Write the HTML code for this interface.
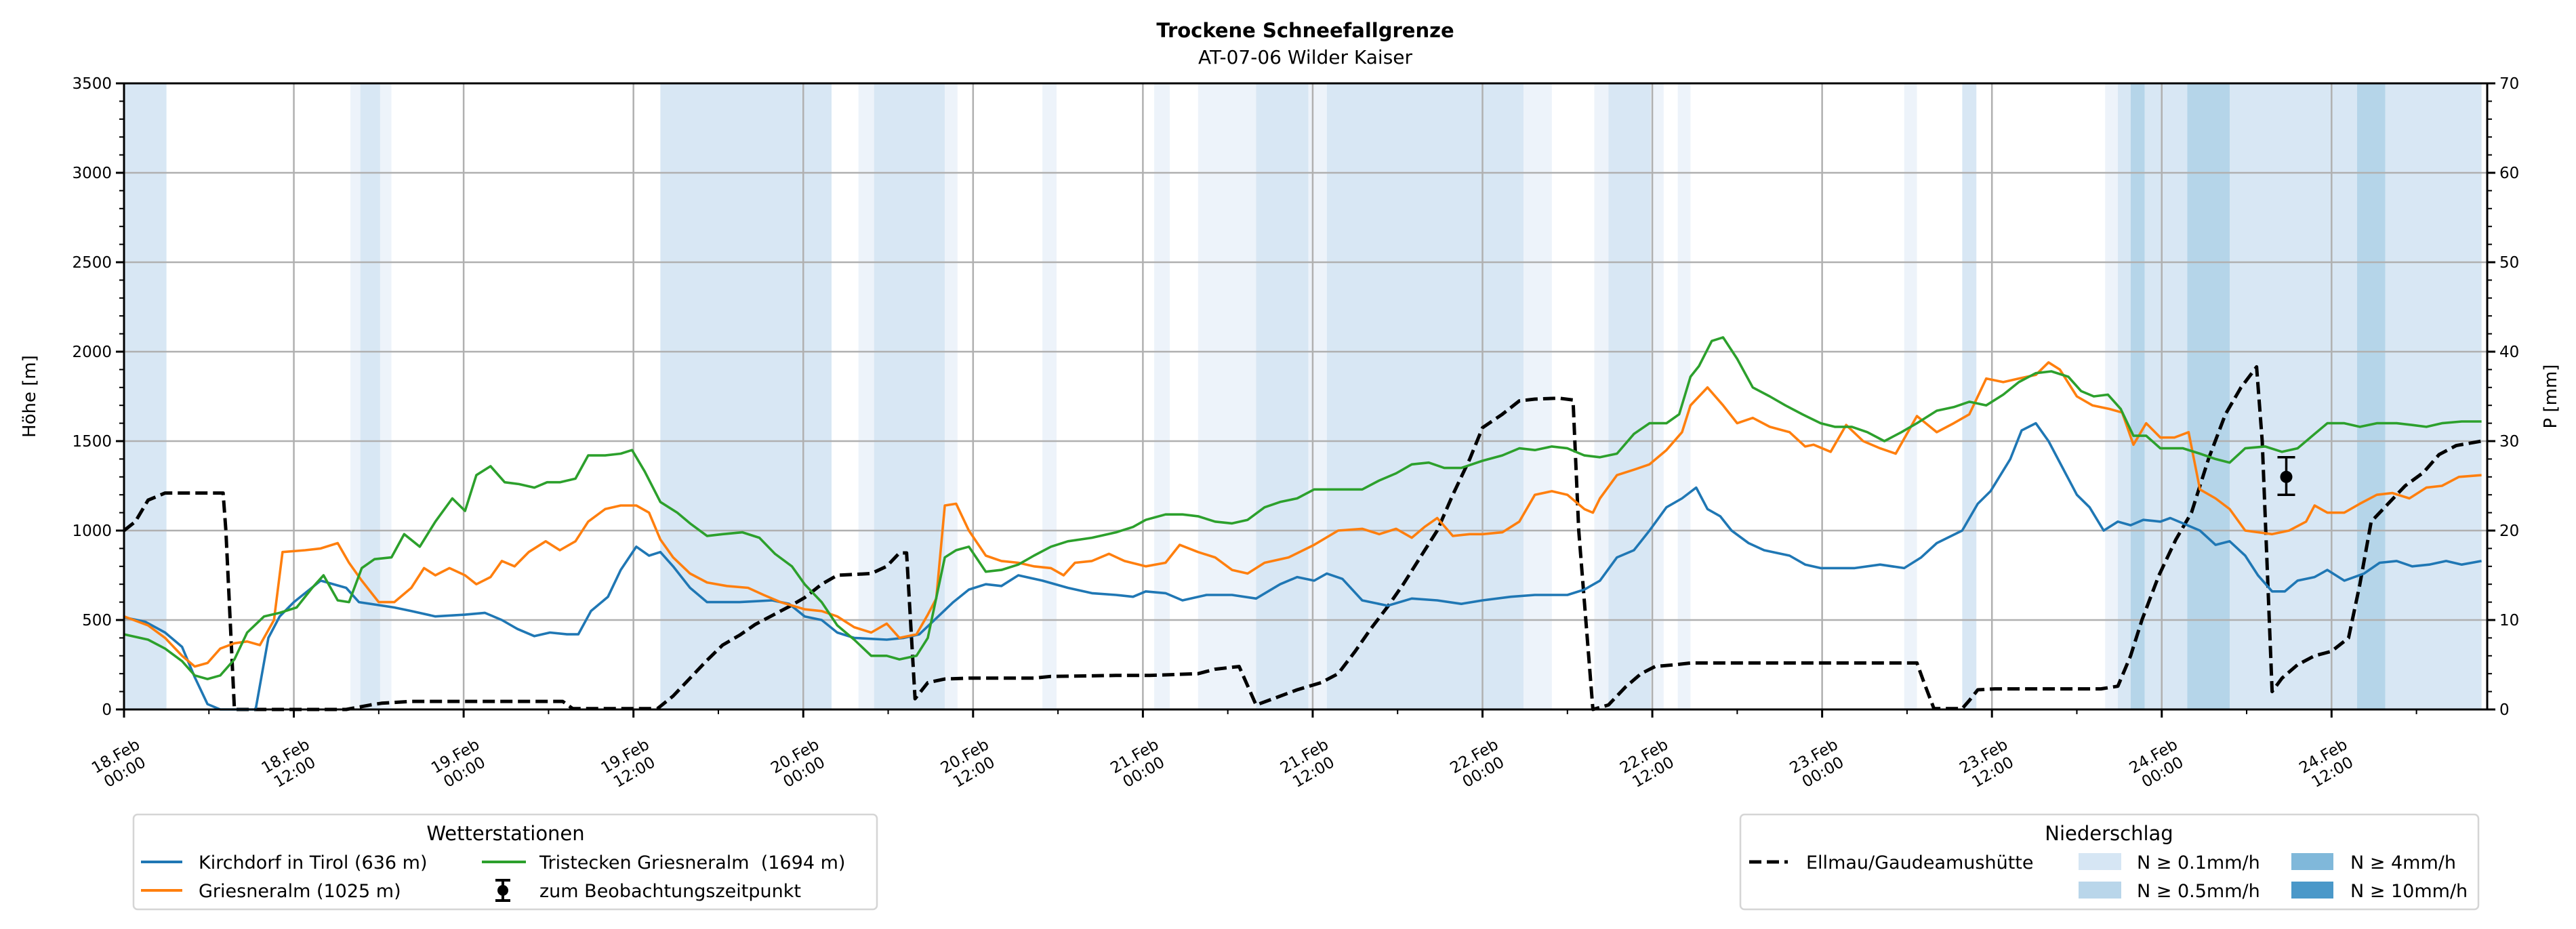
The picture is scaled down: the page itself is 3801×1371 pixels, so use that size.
<!DOCTYPE html>
<html><head><meta charset="utf-8"><style>
html,body{margin:0;padding:0;background:#fff;}
svg{display:block;font-family:"DejaVu Sans","Liberation Sans",sans-serif;}
</style></head><body>
<svg id="chart" width="3801" height="1371" viewBox="0 0 3801 1371" xmlns="http://www.w3.org/2000/svg">
<text x="1926" y="55" text-anchor="middle" font-size="29" font-weight="bold">Trockene Schneefallgrenze</text>
<text x="1926" y="94" text-anchor="middle" font-size="28">AT-07-06 Wilder Kaiser</text>
<g id="bands"></g>
<g id="grid"></g>
<g id="series"></g>
<g id="axes"></g>
<text transform="translate(52,585) rotate(-90)" text-anchor="middle" font-size="26">Höhe [m]</text>
<text transform="translate(3772,585) rotate(-90)" text-anchor="middle" font-size="26">P [mm]</text>

<g>
<rect x="197" y="1202" width="1097" height="140" rx="6" fill="#fff" stroke="#d5d5d5" stroke-width="2.5"/>
<text x="746" y="1240" text-anchor="middle" font-size="29">Wetterstationen</text>
<g><line x1="208" y1="1272" x2="269" y2="1272" stroke="#1f77b4" stroke-width="4"/><text x="293" y="1282" font-size="27">Kirchdorf in Tirol (636 m)</text></g>
<g><line x1="208" y1="1314" x2="269" y2="1314" stroke="#ff7f0e" stroke-width="4"/><text x="293" y="1324" font-size="27">Griesneralm (1025 m)</text></g>
<g><line x1="711" y1="1272" x2="776" y2="1272" stroke="#2ca02c" stroke-width="4"/><text x="796" y="1282" font-size="27" xml:space="preserve">Tristecken Griesneralm  (1694 m)</text></g>
<g><line x1="742" y1="1299" x2="742" y2="1329" stroke="#000" stroke-width="4"/><line x1="731" y1="1299" x2="753" y2="1299" stroke="#000" stroke-width="4"/><line x1="731" y1="1329" x2="753" y2="1329" stroke="#000" stroke-width="4"/><circle cx="742" cy="1314" r="8"/><text x="796" y="1324" font-size="27">zum Beobachtungszeitpunkt</text></g>
</g>

<g>
<rect x="2568" y="1202" width="1089" height="140" rx="6" fill="#fff" stroke="#d5d5d5" stroke-width="2.5"/>
<text x="3112" y="1240" text-anchor="middle" font-size="29">Niederschlag</text>
<g><line x1="2581" y1="1272" x2="2638" y2="1272" stroke="#000" stroke-width="5" stroke-dasharray="18,8"/><text x="2665" y="1282" font-size="27">Ellmau/Gaudeamushütte</text></g>
<g><rect x="3067" y="1259" width="63" height="25" fill="#d6e6f4"/><text x="3153" y="1282" font-size="27">N ≥ 0.1mm/h</text></g>
<g><rect x="3067" y="1301" width="63" height="25" fill="#b9d6ea"/><text x="3153" y="1324" font-size="27">N ≥ 0.5mm/h</text></g>
<g><rect x="3381" y="1259" width="62" height="25" fill="#80b8da"/><text x="3468" y="1282" font-size="27">N ≥ 4mm/h</text></g>
<g><rect x="3381" y="1301" width="62" height="25" fill="#4a98c9"/><text x="3468" y="1324" font-size="27">N ≥ 10mm/h</text></g>
</g>
</svg>
<script>
const blueT=[0,1.5,2.9,4.1,5,5.9,6.8,9.3,10.2,11,12,13.9,15.7,16.6,19.1,20.3,22,24.1,25.5,26.7,27.8,29,30.1,31.3,32.1,33,34.2,35.1,36.2,37.1,37.9,38.8,40,41.2,43.5,45.8,47,48.1,49.3,50.4,51.6,53.9,55.1,56.2,57.4,58.6,59.7,60.9,62,63.2,64.9,66.7,68.4,70.1,71.3,72.2,73.6,74.8,76.5,78.3,80,81.7,82.9,84.1,85,86.1,87.5,89.3,91,92.8,94.5,96,98,99.7,102,103.2,104.3,105.5,106.7,107.8,109,110.1,111.1,111.9,112.8,113.6,114.8,115.9,117.7,118.8,119.9,122.3,124.1,125.8,127,128.1,129.9,131,131.9,133.3,134.1,135.1,136,137,138,138.9,139.9,140.9,141.8,142.7,143.9,144.6,145.5,146.7,147.8,148.8,149.9,150.8,151.8,152.7,153.6,154.8,155.7,156.9,158.3,159.4,160.6,161.7,162.9,164.1,165.2,166.6];
const blueV=[515,490,430,350,180,30,0,0,400,520,600,720,680,600,570,550,520,530,540,500,450,410,430,420,420,550,630,780,910,860,880,800,680,600,600,610,590,520,500,430,400,390,400,420,510,600,670,700,690,750,720,680,650,640,630,660,650,610,640,640,620,700,740,720,760,730,610,580,620,610,590,610,630,640,640,670,720,850,890,1000,1130,1180,1240,1120,1080,1000,930,890,860,810,790,790,810,790,850,930,1000,1150,1220,1400,1560,1600,1500,1350,1200,1130,1000,1050,1030,1060,1050,1070,1040,1000,920,940,860,750,660,660,720,740,780,720,760,820,830,800,810,830,810,830];
const orangeT=[0,1.7,2.9,4.1,5,5.9,6.8,7.8,8.7,9.6,10.6,11.2,12.8,13.9,15.1,15.9,16.8,18,19.1,20.3,21.2,22,23,24.1,24.9,25.9,26.7,27.6,28.6,29.8,30.8,31.9,32.8,34,35.1,36.2,37.1,37.9,38.8,40,41.2,42.6,44.1,45.2,46.4,48.1,49.3,50.4,51.6,52.8,53.9,54.8,56,56.8,57.4,58,58.8,59.7,60.9,62,63.2,64.3,65.5,66.4,67.2,68.4,69.6,70.7,72.2,73.6,74.6,75.9,77.1,78.3,79.4,80.6,82.3,84.1,85.8,87.5,88.7,89.9,91,91.9,92.8,93.9,95.1,96,97.4,98.6,99.7,100.9,102,103.2,103.8,104.3,105.5,106.7,107.8,109,110.1,110.7,111.9,113,114,115.1,116.3,117.7,118.8,119.4,120.6,121.7,122.9,124.1,125.2,126.7,128.1,129.3,130.4,131.6,132.8,133.9,135.1,136,136.8,138,139.1,140.3,141.2,142,142.9,143.9,144.9,145.9,146.7,147.8,148.8,149.9,151.8,153,154.2,154.8,155.7,156.9,158,159.2,160.3,161.5,162.7,163.8,165,166.6];
const orangeV=[520,470,400,300,240,260,340,370,380,360,500,880,890,900,930,820,720,600,600,680,790,750,790,750,700,740,830,800,880,940,890,940,1050,1120,1140,1140,1100,950,850,760,710,690,680,640,600,560,550,520,460,430,480,400,420,530,620,1140,1150,1000,860,830,820,800,790,750,820,830,870,830,800,820,920,880,850,780,760,820,850,920,1000,1010,980,1010,960,1020,1070,970,980,980,990,1050,1200,1220,1200,1120,1100,1180,1310,1340,1370,1450,1550,1700,1800,1700,1600,1630,1580,1550,1470,1480,1440,1590,1500,1460,1430,1640,1550,1600,1650,1850,1830,1850,1870,1940,1900,1750,1700,1680,1660,1480,1600,1520,1520,1550,1230,1180,1120,1000,980,1000,1050,1140,1100,1100,1150,1200,1210,1180,1240,1250,1300,1310];
const greenT=[0,1.7,2.9,4.1,5,5.9,6.8,7.8,8.7,9.9,11,12.2,13.3,14.1,15.1,15.9,16.8,17.7,18.9,19.8,20.9,22,23.2,24.1,24.9,25.9,26.9,27.9,29,29.9,30.8,31.9,32.8,34,35.1,35.9,36.8,37.9,39.1,40,41.2,42.3,43.7,44.9,46,47.2,48.1,49.3,50.4,51.6,52.8,53.9,54.8,56,56.8,58,58.8,59.7,60.9,62,63.2,64.3,65.5,66.7,68.4,70.1,71.3,72.2,73.6,74.8,75.9,77.1,78.3,79.4,80.6,81.7,82.9,84.1,85.8,87.5,88.7,89.9,91,92.2,93.3,94.5,96,97.4,98.6,99.7,100.9,102,103.2,104.3,105.5,106.7,107.8,109,109.9,110.7,111.3,112.2,113,114,115.1,116.3,117.4,118.6,119.9,120.9,122.1,123.2,124.4,125.6,126.7,128.1,129.3,130.4,131.6,132.8,133.9,135.1,136.2,137.4,138.3,139.2,140.2,141.1,142,142.9,143.9,145.5,146.7,147.8,148.8,149.9,151.3,152.5,153.6,154.8,155.7,156.9,158,159.2,160.6,161.7,162.7,163.8,165.2,166.6];
const greenV=[420,390,340,270,190,170,190,280,430,520,540,570,680,750,610,600,790,840,850,980,910,1050,1180,1110,1310,1360,1270,1260,1240,1270,1270,1290,1420,1420,1430,1450,1330,1160,1100,1040,970,980,990,960,870,800,700,600,470,390,300,300,280,300,400,850,890,910,770,780,810,860,910,940,960,990,1020,1060,1090,1090,1080,1050,1040,1060,1130,1160,1180,1230,1230,1230,1280,1320,1370,1380,1350,1350,1390,1420,1460,1450,1470,1460,1420,1410,1430,1540,1600,1600,1650,1860,1920,2060,2080,1960,1800,1750,1700,1650,1600,1580,1580,1550,1500,1550,1600,1670,1690,1720,1700,1760,1830,1880,1890,1860,1780,1750,1760,1680,1530,1530,1460,1460,1430,1400,1380,1460,1470,1440,1460,1540,1600,1600,1580,1600,1600,1590,1580,1600,1610,1610];
const precipT=[0,0.8,1.7,2.9,7,7.2,7.8,15.7,17.4,18.2,20.3,31,31.7,37.7,38.8,40,41.2,42.3,43.5,44.6,45.8,47,48.1,49.3,50.4,52.8,53.9,54.8,55.3,55.9,56.8,58,59.7,64.3,65.5,70.1,72.5,75.9,77.1,78.8,80,81.2,82.9,84.6,85.8,87,88.1,89.3,90.4,91.6,92.8,93.9,95.1,96,97.4,98.6,99.7,101.4,102.4,102.8,103.8,104.9,106.1,107.2,108.2,109.6,110.7,126.7,127.2,127.9,129.9,130.4,131,132.2,139.7,140.9,141.8,142.6,143.8,145,146.1,147.3,148.5,149.6,150.7,151.1,151.8,152.5,153.6,154.8,156,157.2,158,158.8,160,161.2,162.5,163.6,164.8,166.6];
const precipV=[20,21,23.4,24.2,24.2,20,0,0,0.5,0.7,0.9,0.9,0.1,0.1,1.5,3.5,5.5,7.2,8.3,9.5,10.5,11.5,12.5,14,15,15.2,16,17.5,17.5,1.2,3,3.4,3.5,3.5,3.7,3.8,3.8,4,4.5,4.8,0.5,1.2,2.2,3,4,6.5,9,11.5,14,17,20,24,28,31.5,33,34.5,34.7,34.8,34.6,20,0,0.5,2.5,4,4.8,5,5.2,5.2,3,0.1,0.1,1,2.2,2.3,2.3,2.6,6,10,15,19,22,28,33,36,38.3,30,2,3.5,5,6,6.5,8,14,21,23,25,26.5,28.5,29.5,30];
const bandStart=[0,16,16.7,18.1,37.9,51.9,53,58,64.9,72.8,75.9,80,83.7,85,98.9,103.9,104.9,107.9,109.8,125.8,129.9,140,140.9,141.8,142.8,145.8,148.8,157.8,159.8];
const bandEnd=[3,16.7,18.1,18.9,50,53,58,58.9,65.9,73.9,80,83.7,85,98.9,100.9,104.9,107.9,108.8,110.7,126.7,130.9,140.9,141.8,142.8,145.8,148.8,157.8,159.8,166.6];
const bandLevel=[1,0,1,0,1,0,1,0,0,0,0,1,0,1,0,0,1,0,0,0,1,0,1,2,1,2,1,2,1];
const obsTime=[152.8], obsValue=[1300], obsLow=[1200], obsHigh=[1410];
const xTickHours=[0,12,24,36,48,60,72,84,96,108,120,132,144,156];
const xTickLabels=[["18.Feb","00:00"],["18.Feb","12:00"],["19.Feb","00:00"],["19.Feb","12:00"],["20.Feb","00:00"],["20.Feb","12:00"],["21.Feb","00:00"],["21.Feb","12:00"],["22.Feb","00:00"],["22.Feb","12:00"],["23.Feb","00:00"],["23.Feb","12:00"],["24.Feb","00:00"],["24.Feb","12:00"]];
const yTicks=[0,500,1000,1500,2000,2500,3000,3500];
const y2Ticks=[0,10,20,30,40,50,60,70];

const L=183,R=3670,T=123,B=1047,TMAX=167,YMAX=3500,PMAX=70;
const xs=t=>L+t/TMAX*(R-L);
const ys=v=>B-v/YMAX*(B-T);
const yp=v=>B-v/PMAX*(B-T);
const NS="http://www.w3.org/2000/svg";
function mk(tag,attrs,parent){const e=document.createElementNS(NS,tag);for(const k in attrs)e.setAttribute(k,attrs[k]);parent.appendChild(e);return e;}
const bands=document.getElementById('bands'),grid=document.getElementById('grid'),series=document.getElementById('series'),axes=document.getElementById('axes');
const bandColors=['#edf3fa','#d8e7f4','#b5d5e9'];
bandStart.forEach((s,i)=>{
  const r=mk('rect',{x:xs(s),y:T,width:xs(bandEnd[i])-xs(s),height:B-T,fill:bandColors[bandLevel[i]]},bands);
  
  
});
xTickHours.forEach(h=>{const l=mk('line',{x1:xs(h),x2:xs(h),y1:T,y2:B,stroke:'#b0b0b0','stroke-width':2.5},grid);
  
  });
yTicks.forEach(v=>{const l=mk('line',{x1:L,x2:R,y1:ys(v),y2:ys(v),stroke:'#b0b0b0','stroke-width':2.5},grid);
  
  });
function line(T_,V_,fy,color,name,extra){
  const d=T_.map((t,i)=>(i?'L':'M')+xs(t).toFixed(1)+','+fy(V_[i]).toFixed(1)).join('');
  const p=mk('path',Object.assign({d:d,fill:'none',stroke:color,'stroke-width':3.6,'stroke-linejoin':'round'},extra||{}),series);
  
  
}
line(precipT,precipV,yp,'#000','precip-ellmau-line',{'stroke-width':5,'stroke-dasharray':'18,8'});
line(blueT,blueV,ys,'#1f77b4','kirchdorf-line');
line(orangeT,orangeV,ys,'#ff7f0e','griesneralm-line');
line(greenT,greenV,ys,'#2ca02c','tristecken-line');
obsTime.forEach((t,i)=>{const g=mk('g',{},series);
  
  
  const x=xs(t);
  mk('line',{x1:x,x2:x,y1:ys(obsLow[i]),y2:ys(obsHigh[i]),stroke:'#000','stroke-width':3.5},g);
  mk('line',{x1:x-13,x2:x+13,y1:ys(obsLow[i]),y2:ys(obsLow[i]),stroke:'#000','stroke-width':3.5},g);
  mk('line',{x1:x-13,x2:x+13,y1:ys(obsHigh[i]),y2:ys(obsHigh[i]),stroke:'#000','stroke-width':3.5},g);
  mk('circle',{cx:x,cy:ys(obsValue[i]),r:9,fill:'#000'},g);});
const fr=mk('rect',{x:L,y:T,width:R-L,height:B-T,fill:'none',stroke:'#000','stroke-width':3},axes);


for(let v=0;v<=YMAX;v+=100){const y=ys(v),maj=v%500===0;mk('line',{x1:L-(maj?12:7),x2:L,y1:y,y2:y,stroke:'#000','stroke-width':maj?3:2},axes);}
for(let v=0;v<=PMAX;v+=2){const y=yp(v),maj=v%10===0;mk('line',{x1:R,x2:R+(maj?12:7),y1:y,y2:y,stroke:'#000','stroke-width':maj?3:2},axes);}
for(let h=0;h<=TMAX;h+=6){const x=xs(h),maj=h%12===0;mk('line',{x1:x,x2:x,y1:B,y2:B+(maj?12:7),stroke:'#000','stroke-width':maj?3:2},axes);}
yTicks.forEach(v=>{const t=mk('text',{x:L-18,y:ys(v)+8,'text-anchor':'end','font-size':23},axes);t.textContent=v;
  
  });
y2Ticks.forEach(v=>{const t=mk('text',{x:R+18,y:yp(v)+8,'font-size':23},axes);t.textContent=v;
  
  });
xTickHours.forEach((h,i)=>{const x=xs(h);
  const t=mk('text',{transform:'translate('+(x-6)+','+(B+80)+') rotate(-30)','text-anchor':'middle','font-size':23},axes);
  
  
  const a=mk('tspan',{x:0,y:-5},t);a.textContent=xTickLabels[i][0];
  const b=mk('tspan',{x:0,y:22},t);b.textContent=xTickLabels[i][1];});
</script>
</body></html>
